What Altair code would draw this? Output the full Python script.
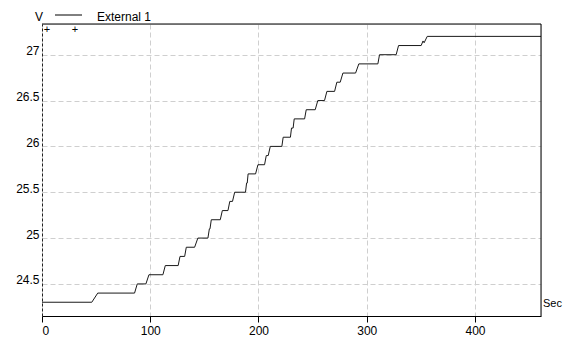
import altair as alt
import pandas as pd

times = [0, 46, 51.5, 85.5, 88, 96, 98.8, 111.7, 113.9, 125.8, 127.5, 131.8, 133.3,
         141, 144, 153.3, 154.6, 155.2, 156.4, 164.7, 166.6, 171.8, 173.5, 176, 178,
         188, 189, 189.6, 190.4, 197.3, 199.5, 205.6, 207.2, 209, 210.9, 221.6, 222.8,
         229.5, 230.5, 232, 233, 242.6, 244.1, 252.4, 254.8, 261, 263.2, 270.3, 272.4,
         275.5, 278, 289.7, 292.7, 310.3, 311.8, 327.2, 329.4, 350.3, 352, 353, 355.9, 461]
volts = [24.3, 24.3, 24.4, 24.4, 24.5, 24.5, 24.6, 24.6, 24.7, 24.7, 24.8, 24.8, 24.9,
         24.9, 25.0, 25.0, 25.1, 25.1, 25.2, 25.2, 25.3, 25.3, 25.4, 25.4, 25.5,
         25.5, 25.6, 25.6, 25.7, 25.7, 25.8, 25.8, 25.9, 25.9, 26.0, 26.0, 26.1,
         26.1, 26.2, 26.2, 26.3, 26.3, 26.4, 26.4, 26.5, 26.5, 26.6, 26.6, 26.7,
         26.7, 26.8, 26.8, 26.9, 26.9, 27.0, 27.0, 27.1, 27.1, 27.15, 27.13, 27.2, 27.2]
x_ticks = [0, 100, 200, 300, 400]
y_ticks = [24.5, 25, 25.5, 26, 26.5, 27]
series_name = "External 1"
y_unit = "V"
x_unit = "Sec"

W, H = 499, 292
FONT = "Liberation Sans"
df = pd.DataFrame({"t": times, "v": volts})
one = pd.DataFrame({"a": [0]})

xs = alt.Scale(domain=[0, 461], nice=False, zero=False)
ys = alt.Scale(domain=[24.15, 27.335], nice=False, zero=False)

line = alt.Chart(df).mark_line(color="#1a1a1a", strokeWidth=1).encode(
    x=alt.X("t:Q", scale=xs,
            axis=alt.Axis(values=x_ticks, title=None, grid=True, gridColor="#cfcfcf",
                          gridDash=[5, 3], tickSize=6, tickColor="#000", domainColor="#000",
                          labelPadding=3, labelColor="#000", labelFont=FONT, labelFontSize=12)),
    y=alt.Y("v:Q", scale=ys,
            axis=alt.Axis(values=y_ticks, title=None, format="~g", grid=True, gridColor="#cfcfcf",
                          gridDash=[5, 3], ticks=False, domainColor="#222", domainDash=[3, 2],
                          labelPadding=3, labelBaseline="alphabetic", labelColor="#000",
                          labelFont=FONT, labelFontSize=12)),
)

top_rule = alt.Chart(one).mark_rule(color="#000", strokeWidth=1).encode(
    x=alt.value(0), x2=alt.value(W), y=alt.value(0))
right_rule = alt.Chart(one).mark_rule(color="#000", strokeWidth=1).encode(
    x=alt.value(W), y=alt.value(0), y2=alt.value(H))
legend_line = alt.Chart(one).mark_rule(color="#000", strokeWidth=1).encode(
    x=alt.value(13), x2=alt.value(40), y=alt.value(-9))

def label(txt, x, y, align="left", size=12, baseline="alphabetic"):
    return alt.Chart(one).mark_text(align=align, baseline=baseline, font=FONT,
                                    fontSize=size, color="#000").encode(
        x=alt.value(x), y=alt.value(y), text=alt.value(txt))

chart = alt.layer(
    line, top_rule, right_rule, legend_line,
    label(series_name, 55, -3),
    label(y_unit, -3, -3, align="center"),
    label(x_unit, 501, 283, size=11),
    label("+", 5, 6, align="center", size=11, baseline="middle"),
    label("+", 33, 6, align="center", size=11, baseline="middle"),
).properties(
    width=W, height=H,
    autosize=alt.AutoSizeParams(type="none"),
    padding={"left": 34, "top": 16, "right": 22, "bottom": 22},
).configure_view(stroke=None).configure(background="white")

chart.save("out.html", embed_options={"renderer": "svg", "actions": False})
